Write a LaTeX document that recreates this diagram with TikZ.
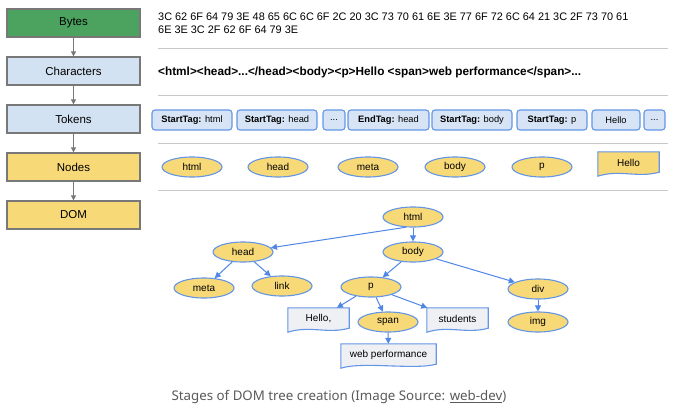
\documentclass[tikz,border=0pt]{standalone}
\usepackage{fontspec}
\setmainfont{Liberation Sans}
\newfontfamily\capfont{Noto Sans}
\usetikzlibrary{shapes.geometric,arrows.meta,backgrounds,calc}
\definecolor{bytesgreen}{RGB}{76,163,96}
\definecolor{stageblue}{RGB}{210,226,242}
\definecolor{stageyellow}{RGB}{248,217,120}
\definecolor{stageborder}{RGB}{120,120,120}
\definecolor{tokborder}{RGB}{100,150,230}
\definecolor{tokfill}{RGB}{214,228,245}
\definecolor{edgeblue}{RGB}{80,135,230}
\definecolor{docgray}{RGB}{238,240,244}
\definecolor{sepgray}{RGB}{200,200,200}
\definecolor{capgray}{RGB}{90,90,90}
\newcommand\mydoc[2]{\path[draw=tokborder,line width=1.1pt,fill=#2] (#1.north west) -- (#1.north east) -- ([yshift=2pt]#1.south east) .. controls ([xshift=-22pt,yshift=-4pt]#1.south east) and ([xshift=22pt,yshift=5pt]#1.south west) .. ([yshift=-2pt]#1.south west) -- cycle;}
\tikzset{
  stage/.style={draw=stageborder,line width=1.2pt,minimum width=133pt,minimum height=28pt,inner sep=0pt,font=\fontsize{11.5}{13}\selectfont},
  garrow/.style={draw=stageborder,line width=1.1pt,-{Triangle[length=5pt,width=5pt]}},
  sepline/.style={draw=sepgray,line width=1pt},
  tok/.style={draw=tokborder,fill=tokfill,line width=1.1pt,rounded corners=3pt,minimum height=20pt,inner sep=0pt,font=\fontsize{9.3}{10}\selectfont},
  ell/.style={ellipse,draw=tokborder,fill=stageyellow,line width=1.1pt,minimum width=60pt,minimum height=20pt,inner sep=0pt,font=\fontsize{10}{11}\selectfont},
  docbox/.style={minimum height=22pt,inner sep=0pt,font=\fontsize{10}{11}\selectfont},
  earrow/.style={draw=edgeblue,line width=1pt,-{Triangle[length=6pt,width=6pt]}},
}
\begin{document}
\begin{tikzpicture}[x=1pt,y=-1pt]
\useasboundingbox (0,0) rectangle (680,407);
\begin{pgfonlayer}{background}
\fill[white] (0,0) rectangle (680,407);
\end{pgfonlayer}
% stages
\node[stage,fill=bytesgreen] (bytes) at (73.5,23) {Bytes};
\node[stage,fill=stageblue] (chars) at (73.5,71) {Characters};
\node[stage,fill=stageblue] (tokens) at (73.5,119) {Tokens};
\node[stage,fill=stageyellow] (nodes) at (73.5,167) {Nodes};
\node[stage,fill=stageyellow] (dom) at (73.5,215) {DOM};
\draw[garrow] (bytes) -- (chars);
\draw[garrow] (chars) -- (tokens);
\draw[garrow] (tokens) -- (nodes);
\draw[garrow] (nodes) -- (dom);
% separators
\coordinate (s1a) at (158,48); \coordinate (s1b) at (668,48);
\coordinate (s2a) at (158,95); \coordinate (s2b) at (668,95);
\coordinate (s3a) at (158,143); \coordinate (s3b) at (668,143);
\coordinate (s4a) at (158,190); \coordinate (s4b) at (668,190);
\draw[sepline] (s1a) -- (s1b);
\draw[sepline] (s2a) -- (s2b);
\draw[sepline] (s3a) -- (s3b);
\draw[sepline] (s4a) -- (s4b);
% bytes text
\node[anchor=west,align=left,inner sep=0pt,font=\fontsize{10.9}{13}\selectfont] (bytestext) at (158,23.5) {3C 62 6F 64 79 3E 48 65 6C 6C 6F 2C 20 3C 73 70 61 6E 3E 77 6F 72 6C 64 21 3C 2F 73 70 61\\6E 3E 3C 2F 62 6F 64 79 3E};
% characters text
\node[anchor=west,inner sep=0pt,font=\fontsize{11.8}{13}\selectfont\bfseries] (charstext) at (158,72) {<html><head>...</head><body><p>Hello <span>web performance</span>...};
% tokens
\node[tok,minimum width=80pt] (t1) at (192,120) {\textbf{StartTag:} html};
\node[tok,minimum width=80pt] (t2) at (277,120) {\textbf{StartTag:} head};
\node[tok,minimum width=22pt] (t3) at (334,120) {...};
\node[tok,minimum width=81pt] (t4) at (388.5,120) {\textbf{EndTag:} head};
\node[tok,minimum width=80pt] (t5) at (472,120) {\textbf{StartTag:} body};
\node[tok,minimum width=70pt] (t6) at (552,120) {\textbf{StartTag:} p};
\node[tok,minimum width=48pt] (t7) at (616,120) {Hello};
\node[tok,minimum width=21pt] (t8) at (654.5,120) {...};
% nodes row
\node[ell] (n1) at (192,167) {html};
\node[ell] (n2) at (278,167) {head};
\node[ell] (n3) at (368,167) {meta};
\node[ell] (n4) at (455,167) {body};
\node[ell] (n5) at (542,167) {p};
\node[docbox,minimum width=61pt] (n6) at (628.5,163) {Hello};
% DOM tree
\node[ell] (html) at (413,217) {html};
\node[ell] (head) at (243,252) {head};
\node[ell] (body) at (413,252) {body};
\node[ell] (meta) at (204,288) {meta};
\node[ell] (link) at (282,286) {link};
\node[ell] (p) at (371,287) {p};
\node[ell] (div) at (538,289) {div};
\node[ell] (img) at (538,322) {img};
\node[ell] (span) at (388,322) {span};
\node[docbox,minimum width=61pt] (hello) at (318.5,319) {Hello,};
\node[docbox,minimum width=61pt] (students) at (457.5,319) {students};
\node[docbox,minimum width=95pt] (webperf) at (388.5,355) {web performance};
\begin{pgfonlayer}{background}
\mydoc{n6}{stageyellow}
\mydoc{hello}{docgray}
\mydoc{students}{docgray}
\mydoc{webperf}{docgray}
\end{pgfonlayer}
\draw[earrow] (html.235) -- (head);
\draw[earrow] (html) -- (body);
\draw[earrow] (head) -- (meta);
\draw[earrow] (head) -- (link);
\draw[earrow] (body) -- (p);
\draw[earrow] (body) -- (div);
\draw[earrow] (p) -- (hello);
\draw[earrow] (p) -- (span);
\draw[earrow] (p) -- (students);
\draw[earrow] (span) -- (webperf);
\draw[earrow] (div) -- (img);
% caption
\node[inner sep=0pt,text=capgray,font=\capfont\fontsize{13.3}{15}\selectfont] (caption) at (339,397) {Stages of DOM tree creation (Image Source: \underline{web-dev})};
\end{tikzpicture}
\end{document}
